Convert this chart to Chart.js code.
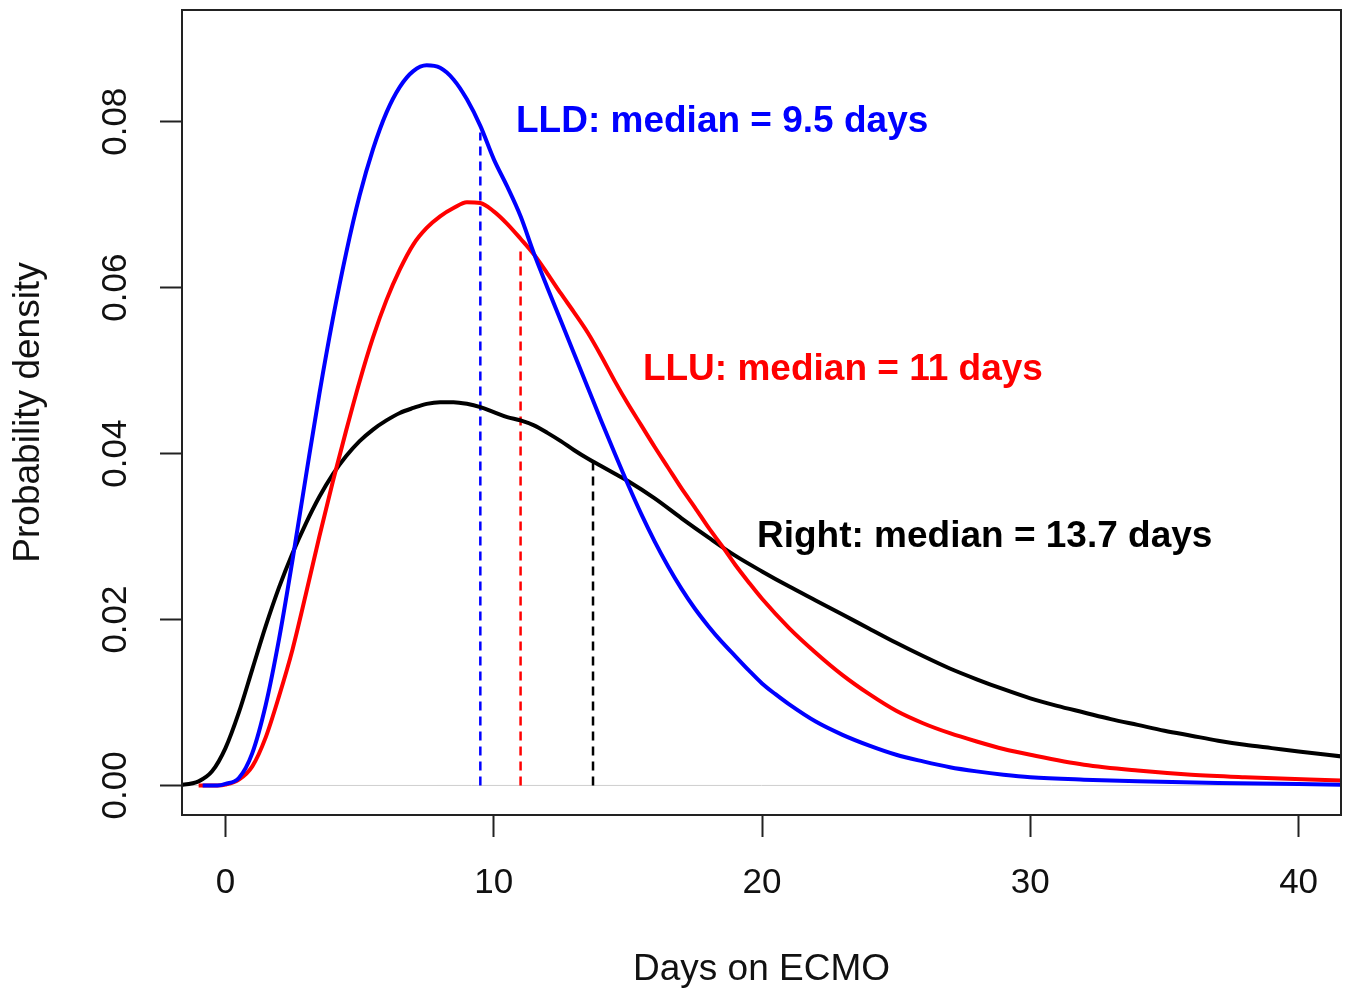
<!DOCTYPE html>
<html>
<head>
<meta charset="utf-8">
<script src="https://cdn.jsdelivr.net/npm/chart.js@4.4.1/dist/chart.umd.min.js"></script>
<style>
  html, body { margin: 0; padding: 0; background: #fff; }
  #wrap { width: 1350px; height: 994px; }
</style>
</head>
<body>
<div id="wrap"><canvas id="densityChart" width="1350" height="994"></canvas></div>
<script>
// density curves (days on ECMO vs probability density)
const lldDays = [-0.85, -0.3, 0.0, 0.5, 1.0, 1.5, 2.0, 2.5, 3.0, 3.5, 4.0, 4.5, 5.0, 5.5, 6.0, 6.5, 7.0, 7.5, 8.0, 8.5, 9.0, 9.5, 10.0, 10.5, 11.0, 11.5, 12.0, 12.5, 13.0, 13.5, 14.0, 14.5, 15.0, 15.5, 16.0, 16.5, 17.0, 17.5, 18.0, 18.5, 19.0, 19.5, 20.0, 20.5, 21.0, 22.0, 23.0, 24.0, 25.0, 26.0, 27.0, 28.0, 29.0, 30.0, 32.0, 34.0, 37.0, 41.6];
const lldDensity = [0, 0, 0.0002, 0.0009, 0.0039, 0.0097, 0.0177, 0.0272, 0.0373, 0.0472, 0.0562, 0.0642, 0.0711, 0.0767, 0.0811, 0.0842, 0.0861, 0.0868, 0.0865, 0.0851, 0.0827, 0.0795, 0.0755, 0.0722, 0.0686, 0.0641, 0.0600, 0.0560, 0.0520, 0.0480, 0.0440, 0.0401, 0.0363, 0.0327, 0.0294, 0.0264, 0.0237, 0.0213, 0.0192, 0.0173, 0.0156, 0.0139, 0.0123, 0.0110, 0.0098, 0.0077, 0.0061, 0.0048, 0.0037, 0.0029, 0.0022, 0.0017, 0.0013, 0.0010, 0.0007, 0.0005, 0.0003, 0.0001];

const lluDays = [-1.0, -0.3, 0.0, 0.5, 1.0, 1.5, 2.0, 2.5, 3.0, 3.5, 4.0, 4.5, 5.0, 5.5, 6.0, 6.5, 7.0, 7.5, 8.0, 8.5, 9.0, 9.5, 10.0, 10.5, 11.0, 11.5, 12.0, 12.5, 13.0, 13.5, 14.0, 14.5, 15.0, 15.5, 16.0, 16.5, 17.0, 17.5, 18.0, 18.5, 19.0, 19.5, 20.0, 21.0, 22.0, 23.0, 24.0, 25.0, 26.0, 27.0, 28.0, 29.0, 30.0, 32.0, 34.0, 36.0, 38.0, 41.6];
const lluDensity = [0, 0, 0.0001, 0.0007, 0.0023, 0.0058, 0.0108, 0.0164, 0.0231, 0.0300, 0.0366, 0.0428, 0.0487, 0.0540, 0.0585, 0.0622, 0.0652, 0.0672, 0.0686, 0.0696, 0.0703, 0.0702, 0.0692, 0.0677, 0.0659, 0.0640, 0.0617, 0.0593, 0.0570, 0.0546, 0.0518, 0.0488, 0.0460, 0.0434, 0.0408, 0.0383, 0.0358, 0.0335, 0.0311, 0.0289, 0.0266, 0.0245, 0.0225, 0.0190, 0.0160, 0.0133, 0.0110, 0.0090, 0.0075, 0.0063, 0.0053, 0.0044, 0.0037, 0.0025, 0.0018, 0.0013, 0.0010, 0.0006];

const rightDays = [-2.5, -1.62, -1.0, -0.5, 0.0, 0.5, 1.0, 1.5, 2.0, 2.5, 3.0, 3.5, 4.0, 4.5, 5.0, 5.5, 6.0, 6.5, 7.0, 7.5, 8.0, 8.5, 9.0, 9.5, 10.0, 10.5, 11.0, 11.5, 12.0, 12.5, 13.0, 13.5, 14.0, 14.5, 15.0, 16.0, 17.0, 18.0, 19.0, 20.0, 21.0, 22.0, 23.0, 24.0, 25.0, 26.0, 27.0, 28.0, 29.0, 30.0, 31.0, 32.0, 33.0, 34.0, 35.0, 36.0, 37.0, 38.0, 39.0, 40.0, 41.6];
const rightDensity = [0, 0.0001, 0.0005, 0.0017, 0.0045, 0.0088, 0.0140, 0.0192, 0.0239, 0.0280, 0.0316, 0.0348, 0.0375, 0.0397, 0.0415, 0.0429, 0.0440, 0.0449, 0.0455, 0.0460, 0.0462, 0.0462, 0.0460, 0.0456, 0.0450, 0.0444, 0.0440, 0.0434, 0.0425, 0.0415, 0.0404, 0.0394, 0.0385, 0.0376, 0.0367, 0.0346, 0.0322, 0.0299, 0.0277, 0.0258, 0.0240, 0.0223, 0.0206, 0.0189, 0.0172, 0.0156, 0.0141, 0.0128, 0.0116, 0.0105, 0.0096, 0.0088, 0.0080, 0.0073, 0.0066, 0.0060, 0.0054, 0.0049, 0.0045, 0.0041, 0.0035];

// medians (dashed drop lines) and their heights on each curve
const medianDays = [9.5, 11, 13.7];
const medianTops = [0.0787, 0.065, 0.039];

// annotations
const labelText = ['LLD: median = 9.5 days', 'LLU: median = 11 days', 'Right: median = 13.7 days'];
const labelX = [10.83, 15.56, 19.81];
const labelY = [0.0800, 0.0501, 0.0300];

const xTicks = [0, 10, 20, 30, 40];
const yTicks = [0, 0.02, 0.04, 0.06, 0.08];

const colors = ['#0000ff', '#ff0000', '#000000'];
const FONT = "'Liberation Sans', Arial, sans-serif";

const pairs = (xs, ys) => xs.map((x, i) => ({ x: x, y: ys[i] }));

const curve = (label, xs, ys, color) => ({
    label: label,
    data: pairs(xs, ys),
    borderColor: color,
    borderWidth: 4,
    pointRadius: 0,
    fill: false,
    cubicInterpolationMode: 'monotone'
});

const medianLine = (i) => ({
    label: 'median ' + i,
    data: [{ x: medianDays[i], y: 0 }, { x: medianDays[i], y: medianTops[i] }],
    borderColor: colors[i],
    borderWidth: 2.5,
    borderDash: [9, 6],
    pointRadius: 0,
    fill: false
});

const boxPlugin = {
    id: 'box',
    afterDraw(chart) {
        const { ctx, chartArea: a } = chart;
        ctx.save();
        ctx.strokeStyle = '#222';
        ctx.lineWidth = 2;
        ctx.strokeRect(a.left, a.top, a.right - a.left, a.bottom - a.top);
        ctx.restore();
    }
};

const labelPlugin = {
    id: 'medianLabels',
    afterDatasetsDraw(chart) {
        const { ctx, scales: { x, y } } = chart;
        ctx.save();
        ctx.font = 'bold 37px ' + FONT;
        ctx.textAlign = 'left';
        ctx.textBaseline = 'middle';
        labelText.forEach((t, i) => {
            ctx.fillStyle = colors[i];
            ctx.fillText(t, x.getPixelForValue(labelX[i]), y.getPixelForValue(labelY[i]));
        });
        ctx.restore();
    }
};

const ctx = document.getElementById('densityChart').getContext('2d');
new Chart(ctx, {
    type: 'line',
    data: {
        datasets: [
            curve('LLD', lldDays, lldDensity, colors[0]),
            curve('LLU', lluDays, lluDensity, colors[1]),
            curve('Right', rightDays, rightDensity, colors[2]),
            medianLine(0),
            medianLine(1),
            medianLine(2),
            {
                label: 'zero',
                data: [{ x: -5, y: 0 }, { x: 50, y: 0 }],
                borderColor: '#cfcfcf',
                borderWidth: 1,
                pointRadius: 0
            }
        ]
    },
    options: {
        responsive: false,
        animation: false,
        devicePixelRatio: 1,
        layout: { padding: { top: 10, right: 9, left: 0, bottom: 0 } },
        plugins: {
            legend: { display: false },
            tooltip: { enabled: false }
        },
        scales: {
            x: {
                type: 'linear',
                min: -1.62,
                max: 41.58,
                afterFit: (scale) => { scale.height = 179; },
                afterBuildTicks: (scale) => { scale.ticks = xTicks.map(v => ({ value: v })); },
                grid: { drawOnChartArea: false, drawTicks: true, tickLength: 22, tickWidth: 2, tickColor: '#222' },
                border: { display: true, width: 2, color: '#222' },
                ticks: {
                    color: '#111',
                    padding: 25,
                    font: { family: FONT, size: 35 },
                    maxRotation: 0,
                    callback: (v) => String(v)
                },
                title: {
                    display: true,
                    text: 'Days on ECMO',
                    color: '#111',
                    font: { family: FONT, size: 37 },
                    padding: { top: 0, bottom: 2 }
                }
            },
            y: {
                type: 'linear',
                min: -0.00356,
                max: 0.09347,
                afterFit: (scale) => {
                    scale.width = 182;
                    scale.paddingTop = 0;
                    scale.paddingBottom = 0;
                },
                afterBuildTicks: (scale) => { scale.ticks = yTicks.map(v => ({ value: v })); },
                grid: { drawOnChartArea: false, drawTicks: true, tickLength: 22, tickWidth: 2, tickColor: '#222' },
                border: { display: true, width: 2, color: '#222' },
                ticks: {
                    color: '#111',
                    padding: 10,
                    crossAlign: 'center',
                    minRotation: 90,
                    maxRotation: 90,
                    font: { family: FONT, size: 35 },
                    callback: (v) => v.toFixed(2)
                },
                title: {
                    display: true,
                    text: 'Probability density',
                    color: '#111',
                    font: { family: FONT, size: 37 },
                    padding: { top: 7, bottom: 0 }
                }
            }
        }
    },
    plugins: [boxPlugin, labelPlugin]
});
</script>
</body>
</html>
